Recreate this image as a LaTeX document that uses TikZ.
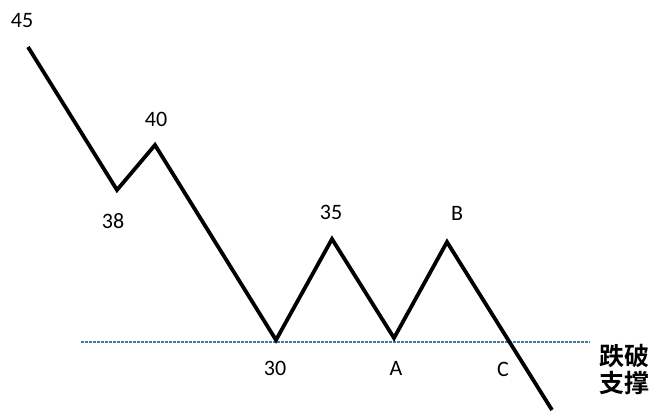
\documentclass[tikz,border=0pt]{standalone}
\usepackage{fontspec}
\setmainfont{Carlito}
\newfontfamily\cjk{Noto Sans CJK SC}[BoldFont={* Bold}]
\definecolor{supportblue}{HTML}{4A7A9A}
\begin{document}
\begin{tikzpicture}[x=1pt,y=-1pt,
  wave/.style={line width=3.8pt,line join=miter,black},
  support/.style={line width=2pt,supportblue,dash pattern=on 2.6pt off 1.4pt},
  lbl/.style={font=\fontsize{22}{24}\selectfont,inner sep=0pt},
  cjklbl/.style={font=\cjk\bfseries\fontsize{25}{27}\selectfont,inner sep=0pt,align=left}]
\useasboundingbox (0,0) rectangle (665,412);
\coordinate (p45) at (28,47);
\coordinate (p38) at (117,190);
\coordinate (p40) at (155,145);
\coordinate (p30) at (276,340);
\coordinate (p35) at (332,239);
\coordinate (pA) at (394,338);
\coordinate (pB) at (447,242);
\coordinate (pEnd) at (552,410);
\coordinate (sL) at (81,342);
\coordinate (sR) at (590,342);
\draw[support] (sL) -- (sR);
\draw[wave] (p45) -- (p38) -- (p40) -- (p30) -- (p35) -- (pA) -- (pB) -- (pEnd);
\node[lbl] (t45) at (22,21) {45};
\node[lbl] (t38) at (113,221) {38};
\node[lbl] (t40) at (156,119) {40};
\node[lbl] (t30) at (275,368) {30};
\node[lbl] (t35) at (331,212) {35};
\node[lbl] (tA) at (396,368) {A};
\node[lbl] (tB) at (457,213) {B};
\node[lbl] (tC) at (503,369) {C};
\node[cjklbl] (tbreak) at (624,356) {跌破};
\node[cjklbl] (tsupport) at (624,383) {支撑};
\end{tikzpicture}
\end{document}
